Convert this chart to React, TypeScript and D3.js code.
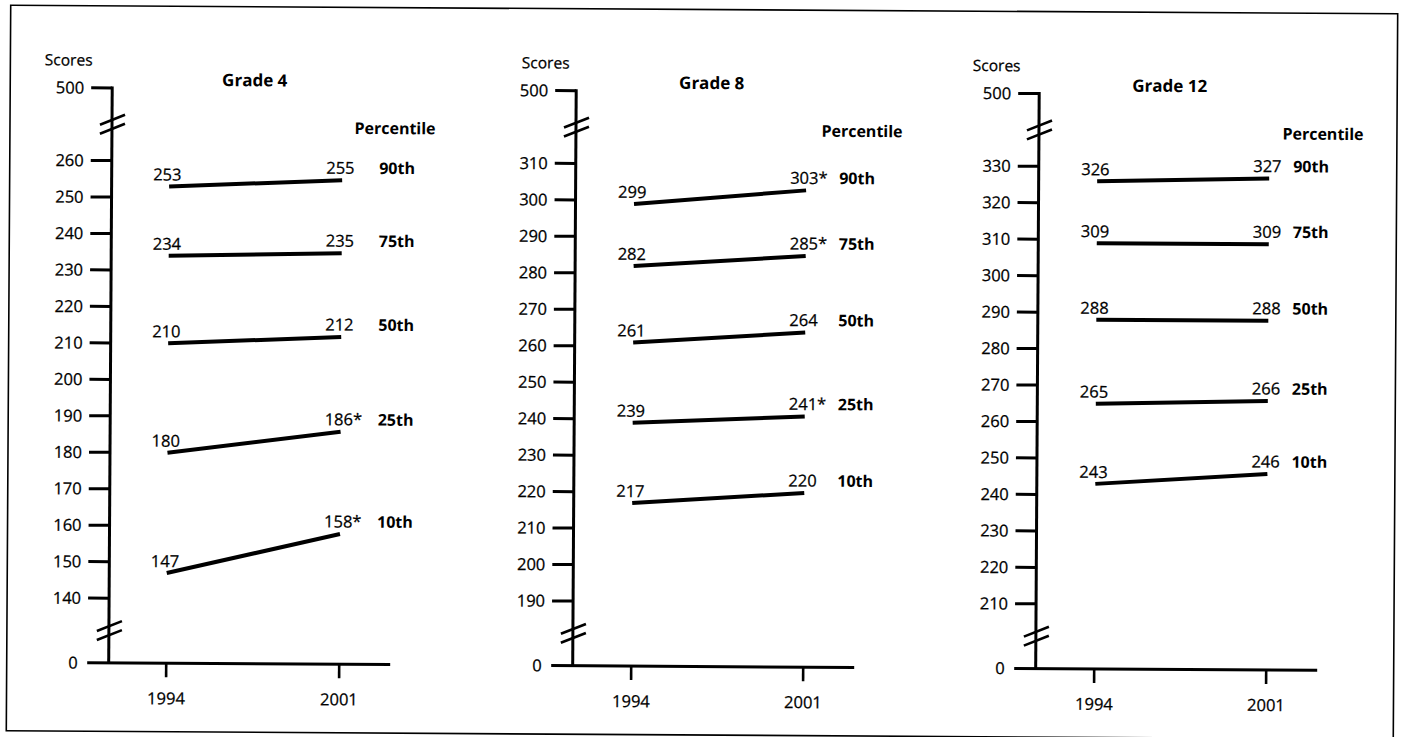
import React from "react";
import * as d3 from "d3";

// ---- data ----
const grades = ["Grade 4", "Grade 8", "Grade 12"];
const years = [1994, 2001];
const percentiles = ["10th", "25th", "50th", "75th", "90th"];

const grade4_1994 = [147, 180, 210, 234, 253];
const grade4_2001 = [158, 186, 212, 235, 255];
const grade4_star = [true, true, false, false, false];

const grade8_1994 = [217, 239, 261, 282, 299];
const grade8_2001 = [220, 241, 264, 285, 303];
const grade8_star = [false, true, false, true, true];

const grade12_1994 = [243, 265, 288, 309, 326];
const grade12_2001 = [246, 266, 288, 309, 327];
const grade12_star = [false, false, false, false, false];

const grade4_ticks = [140, 150, 160, 170, 180, 190, 200, 210, 220, 230, 240, 250, 260];
const grade8_ticks = [190, 200, 210, 220, 230, 240, 250, 260, 270, 280, 290, 300, 310];
const grade12_ticks = [210, 220, 230, 240, 250, 260, 270, 280, 290, 300, 310, 320, 330];

const axisTop = 500;
const axisBottom = 0;

const series = [
  { v1994: grade4_1994, v2001: grade4_2001, star: grade4_star, ticks: grade4_ticks },
  { v1994: grade8_1994, v2001: grade8_2001, star: grade8_star, ticks: grade8_ticks },
  { v1994: grade12_1994, v2001: grade12_2001, star: grade12_star, ticks: grade12_ticks },
];

// ---- layout ----
const W = 1401;
const H = 737;
const FONT = "'Open Sans', 'Noto Sans', sans-serif";
const NUM = 16.5;
const layout = [
  { axisX: 110.5, x0: 168, x1: 341, scoresX: 43, titleX: 253, headX: 353, pctX: 378 },
  { axisX: 574.5, x0: 633, x1: 805, scoresX: 520, titleX: 710, headX: 820, pctX: 838 },
  { axisX: 1037.5, x0: 1096, x1: 1268, scoresX: 971, titleX: 1168, headX: 1281, pctX: 1292 },
];
const Y500 = 91.5;
const YHI = 164.2;
const YLO = 601.8;
const Y0 = 666.5;

const txt = { stroke: "#000", strokeWidth: 0.25 };

function Panel({ idx }: { idx: number }) {
  const s = series[idx];
  const L = layout[idx];
  const lo = d3.min(s.ticks) as number;
  const hi = d3.max(s.ticks) as number;
  const y = d3.scaleLinear().domain([axisBottom, lo, hi, axisTop]).range([Y0, YLO, YHI, Y500]);
  const x = d3.scaleLinear().domain(years).range([L.x0, L.x1]);
  const line = d3.line<[number, number]>().x((d) => x(d[0])).y((d) => y(d[1]));
  const ax = L.axisX;
  const tickLen = 21;
  const allTicks = [axisBottom, ...s.ticks, axisTop];
  const breakTop = (y(hi) + y(axisTop)) / 2;
  const breakBot = (y(lo) + y(axisBottom)) / 2;
  const breakMark = (cy: number, k: number) => (
    <g key={k} stroke="#000" strokeWidth={2.6}>
      <line x1={ax - 12} y1={cy + 0.5} x2={ax + 13} y2={cy - 9.5} />
      <line x1={ax - 12} y1={cy + 9.5} x2={ax + 13} y2={cy - 0.5} />
    </g>
  );
  return (
    <g>
      <text x={L.scoresX} y={69.3} fontSize={15.5} {...txt}>Scores</text>
      <text x={L.titleX} y={89} fontSize={17} fontWeight="bold" textAnchor="middle">{grades[idx]}</text>
      <text x={L.headX} y={136} fontSize={16} fontWeight="bold">Percentile</text>
      {/* y axis */}
      <line x1={ax} y1={y(axisTop) - 1.5} x2={ax} y2={y(axisBottom)} stroke="#000" strokeWidth={3} />
      {allTicks.filter((t) => t !== axisBottom).map((t) => (
        <g key={t}>
          <line x1={ax - tickLen} y1={y(t)} x2={ax} y2={y(t)} stroke="#000" strokeWidth={3} />
          <text x={ax - 28} y={y(t) + 5.8} fontSize={NUM} textAnchor="end" {...txt}>{t}</text>
        </g>
      ))}
      <text x={ax - 31} y={y(axisBottom) + 5.8} fontSize={NUM} textAnchor="end" {...txt}>{axisBottom}</text>
      {breakMark(breakTop, 0)}
      {breakMark(breakBot, 1)}
      {/* x axis */}
      <line x1={ax - 21.5} y1={y(axisBottom)} x2={ax + 281.5} y2={y(axisBottom)} stroke="#000" strokeWidth={3} />
      {years.map((yr) => (
        <g key={yr}>
          <line x1={x(yr)} y1={y(axisBottom)} x2={x(yr)} y2={y(axisBottom) + 14} stroke="#000" strokeWidth={2.6} />
          <text x={x(yr)} y={y(axisBottom) + 41} fontSize={NUM} textAnchor="middle" {...txt}>{yr}</text>
        </g>
      ))}
      {/* data */}
      {percentiles.map((p, i) => {
        const a = s.v1994[i];
        const b = s.v2001[i];
        return (
          <g key={p}>
            <path d={line([[years[0], a], [years[1], b]]) as string} stroke="#000" strokeWidth={4} fill="none" />
            <text x={x(years[0]) - 16} y={y(a) - 6} fontSize={NUM} {...txt}>{a}</text>
            <text x={x(years[1]) - 16} y={y(b) - 6.5} fontSize={NUM} {...txt}>{b}{s.star[i] ? "*" : ""}</text>
            <text x={L.pctX} y={y(b) - 6.5} fontSize={16} fontWeight="bold">{p}</text>
          </g>
        );
      })}
    </g>
  );
}

export default function App() {
  return (
    <svg
      width={W}
      height={H}
      viewBox={`0 0 ${W} ${H}`}
      style={{ position: "absolute", left: 0, top: 0, background: "#fff" }}
      fontFamily={FONT}
      fill="#000"
    >
      <rect x={0} y={0} width={W} height={H} fill="#fff" />
      <g transform="rotate(0.35 700 370)">
        <rect x={8.5} y={9.5} width={1387} height={725.5} fill="none" stroke="#000" strokeWidth={1.6} />
        {grades.map((g, i) => (
          <Panel key={g} idx={i} />
        ))}
      </g>
    </svg>
  );
}
